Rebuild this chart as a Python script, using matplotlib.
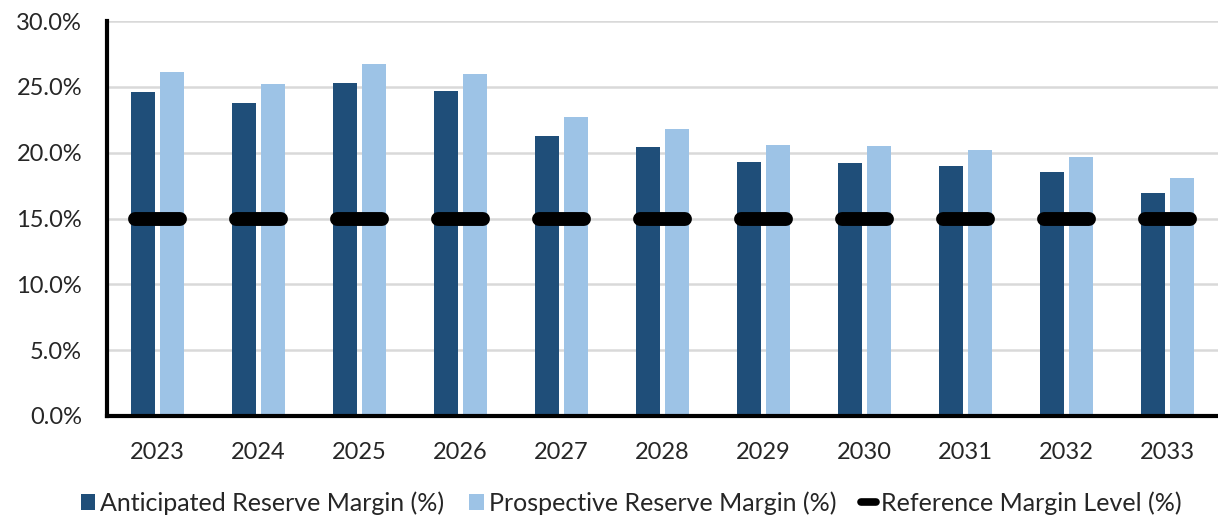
import matplotlib
matplotlib.use("Agg")
import matplotlib.pyplot as plt
import numpy as np
from matplotlib.lines import Line2D
from matplotlib.patches import Patch

years = ["2023", "2024", "2025", "2026", "2027", "2028", "2029", "2030", "2031", "2032", "2033"]
anticipated = [24.6, 23.8, 25.3, 24.7, 21.3, 20.4, 19.3, 19.2, 19.0, 18.5, 16.9]
prospective = [26.1, 25.2, 26.7, 26.0, 22.7, 21.8, 20.6, 20.5, 20.2, 19.7, 18.1]
reference = [15.0] * 11
yticks = [0, 5, 10, 15, 20, 25, 30]

dark = "#1f4e79"
light = "#9dc3e6"
txt = "#262626"

plt.rcParams['font.family'] = ['Lato', 'DejaVu Sans']

fig = plt.figure(figsize=(12.18, 5.23), dpi=100)
ax = fig.add_axes([107/1218, 1 - 416/523, (1218 - 107)/1218, (416 - 21)/523])

x = np.arange(len(years))
w = 0.24
off = 0.145
ax.bar(x - off, anticipated, w, color=dark, zorder=2)
ax.bar(x + off, prospective, w, color=light, zorder=2)
for xi, r in zip(x, reference):
    ax.plot([xi - 0.22, xi + 0.22], [r, r], color="black", lw=10, solid_capstyle="round", zorder=3)

ax.set_xlim(-0.5, len(years) - 0.5)
ax.set_ylim(0, 30)
ax.set_yticks(yticks)
ax.set_yticklabels([f"{v:.1f}%" for v in yticks])
ax.set_xticks(x)
ax.set_xticklabels(years)
ax.tick_params(axis="both", length=0, labelsize=17, colors=txt)
ax.tick_params(axis="y", pad=18)
ax.tick_params(axis="x", pad=19)
ax.yaxis.grid(True, color="#d9d9d9", lw=1.8, zorder=0)
ax.set_axisbelow(True)
for s in ["top", "right"]:
    ax.spines[s].set_visible(False)
ax.spines["left"].set_linewidth(3)
ax.spines["bottom"].set_linewidth(3)
ax.spines["left"].set_color("black")
ax.spines["bottom"].set_color("black")

handles = [
    Patch(facecolor=dark, label="Anticipated Reserve Margin (%)"),
    Patch(facecolor=light, label="Prospective Reserve Margin (%)"),
    Line2D([0], [0], color="black", lw=5.5, solid_capstyle="round", label="Reference Margin Level (%)"),
]
fig.legend(handles=handles, loc="center", bbox_to_anchor=(631/1218, 1 - 503/523), ncol=3,
           frameon=False, fontsize=18, handlelength=0.58, handleheight=0.58, handletextpad=0.2,
           columnspacing=1.0, labelcolor=txt, borderpad=0, borderaxespad=0)

fig.savefig("out.png", dpi=100)
